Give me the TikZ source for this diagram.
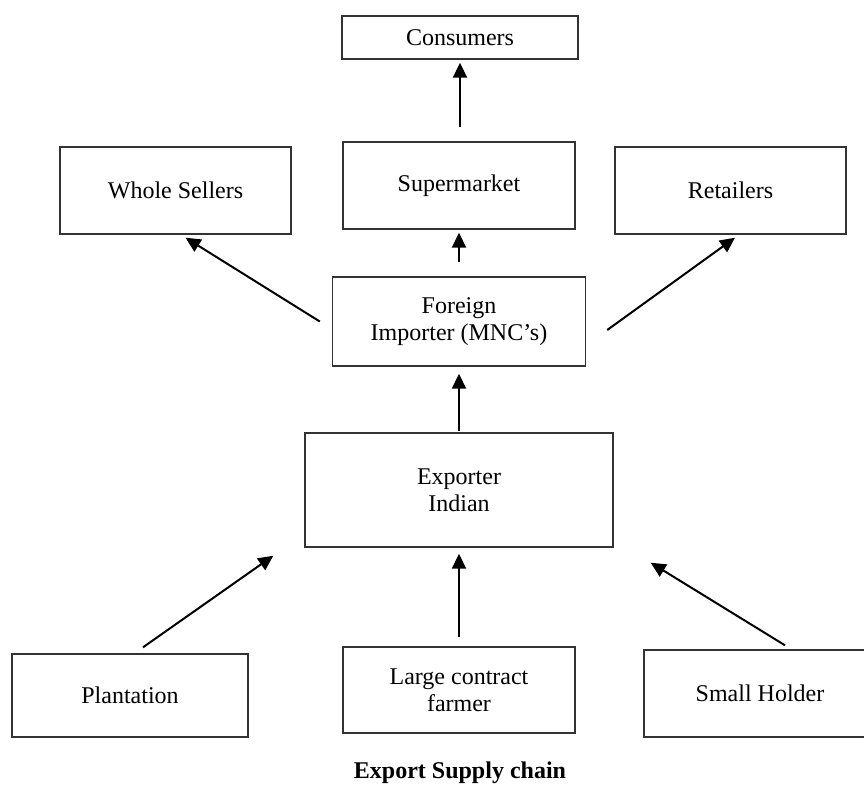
\documentclass[tikz,border=0pt]{standalone}
\usepackage{fontspec}
\setmainfont{Liberation Serif}
\usetikzlibrary{arrows.meta,calc}

\begin{document}
\begin{tikzpicture}[x=0.5pt,y=-0.5pt,
    font=\fontsize{12}{13.6}\selectfont,
    box/.style={draw=black!80, line width=0.7pt, align=center, inner sep=0pt},
    flow/.style={-{Triangle[length=7.5pt,width=7pt]}, line width=1pt}]
    \useasboundingbox (0,0) rectangle (864,784);

    % Draw boxes, top row
    \node[box, minimum width=118pt, minimum height=21.5pt] (cons) at (460,37.5) {Consumers};
    \node[box, minimum width=116pt, minimum height=43.5pt] (super) at (459,185.5) {Supermarket};
    \node[box, minimum width=115.5pt, minimum height=43.5pt] (ws) at (175.5,190.5) {Whole Sellers};
    \node[box, minimum width=115.5pt, minimum height=43.5pt] (ret) at (730.5,190.5) {Retailers};

    % Draw importer and exporter
    \node[box, minimum width=126.5pt, minimum height=44.5pt] (fi) at (459,321.5) {Foreign\\Importer (MNC's)};
    \node[box, minimum width=154pt, minimum height=57pt] (exp) at (459,490) {Exporter\\Indian};

    % Draw producers
    \node[box, minimum width=118pt, minimum height=41.5pt] (plant) at (130,695.5) {Plantation};
    \node[box, minimum width=116pt, minimum height=43pt] (large) at (459,690) {Large contract\\farmer};
    \node[box, minimum width=116pt, minimum height=43.5pt] (small) at (760,693.5) {Small Holder};

    % Arrows
    \draw[flow, shorten <=7pt, shorten >=1.5pt] (super.north -| cons) -- (cons);
    \draw[flow, shorten <=7pt, shorten >=1.5pt] (fi) -- (super);
    \draw[flow] ($(fi.west)+(-12,0)$) -- ($(ws.south)+(10,3)$);
    \draw[flow] ($(fi.east)+(21,8.5)$) -- ($(ret.south)+(4.5,3)$);
    \draw[flow, shorten <=0.5pt, shorten >=3.5pt] (exp) -- (fi);
    \draw[flow] ($(plant.north)+(13,-6)$) -- ($(exp.south west)+(-31,8)$);
    \draw[flow, shorten <=4.5pt, shorten >=3pt] (large) -- (exp);
    \draw[flow] ($(small.north)+(25,-4)$) -- ($(exp.south east)+(37,15)$);

    % Caption
    \node[font=\fontsize{12}{13.6}\selectfont\bfseries] (cap) at (460,773) {Export Supply chain};
\end{tikzpicture}
\end{document}
